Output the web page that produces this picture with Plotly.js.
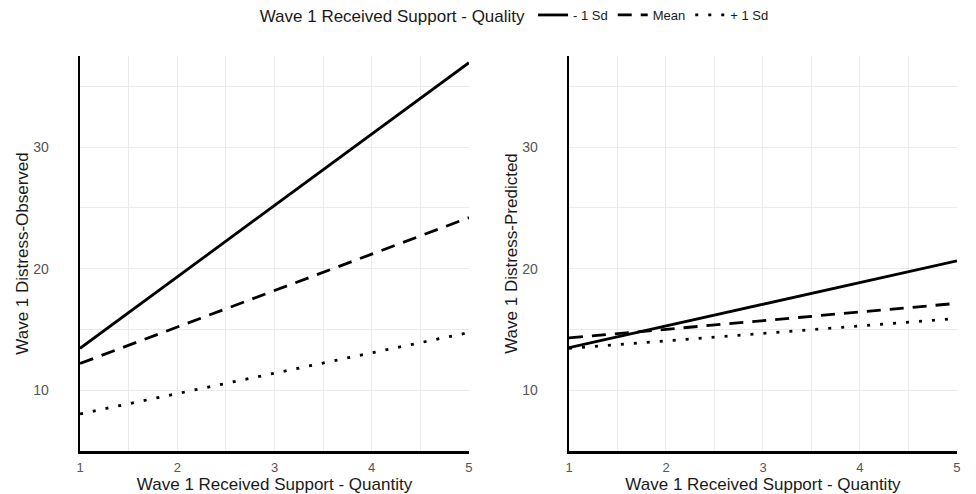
<!DOCTYPE html>
<html>
<head>
<meta charset="utf-8">
<script src="https://cdn.plot.ly/plotly-3.0.1.min.js"></script>
<style>html,body{margin:0;padding:0;background:#fff;}#chart{width:976px;height:494px;}</style>
</head>
<body>
<div id="chart"></div>
<script>
// Data
const quantity = [1, 5];
const groups = ["- 1 Sd", "Mean", "+ 1 Sd"];
const observedMinus1Sd = [13.45, 36.95];
const observedMean = [12.2, 24.2];
const observedPlus1Sd = [8.05, 14.75];
const predictedMinus1Sd = [13.5, 20.65];
const predictedMean = [14.3, 17.15];
const predictedPlus1Sd = [13.45, 15.9];
const yTickVals = [10, 20, 30];
const xTickVals = [1, 2, 3, 4, 5];

const dashes = ["solid", "14px,9px", "3px,10px"];
const observed = [observedMinus1Sd, observedMean, observedPlus1Sd];
const predicted = [predictedMinus1Sd, predictedMean, predictedPlus1Sd];

const traces = [];
observed.forEach((ys, i) => traces.push({
  x: quantity, y: ys, mode: "lines", name: groups[i], legendgroup: groups[i],
  line: {color: "#000", width: 2.8, dash: dashes[i]}, xaxis: "x", yaxis: "y", showlegend: true
}));
predicted.forEach((ys, i) => traces.push({
  x: quantity, y: ys, mode: "lines", name: groups[i], legendgroup: groups[i],
  line: {color: "#000", width: 2.8, dash: dashes[i]}, xaxis: "x2", yaxis: "y2", showlegend: false
}));

const gridc = "#ebebeb";
const font = "Liberation Sans, Arial, sans-serif";
function xa(domain, anchor) {
  return {
    domain: domain, anchor: anchor, range: [1, 5], tickvals: xTickVals,
    showgrid: true, gridcolor: gridc, gridwidth: 1,
    minor: {dtick: 0.5, tick0: 0, showgrid: true, gridcolor: gridc, gridwidth: 1},
    showline: true, linecolor: "#000", linewidth: 2.5, zeroline: false, ticks: "",
    ticklabelstandoff: 3,
    tickfont: {family: font, size: 13, color: "#555"},
    title: {text: "Wave 1 Received Support - Quantity", font: {family: font, size: 17, color: "#1a1a1a"}, standoff: 2}
  };
}
function ya(anchor, title) {
  return {
    domain: [0, 1], anchor: anchor, range: [5.0, 37.5], tickvals: yTickVals,
    showgrid: true, gridcolor: gridc, gridwidth: 1,
    minor: {dtick: 5, tick0: 0, showgrid: true, gridcolor: gridc, gridwidth: 1},
    showline: true, linecolor: "#000", linewidth: 2.5, zeroline: false, ticks: "",
    ticklabelstandoff: 26,
    tickfont: {family: font, size: 14, color: "#555"},
    title: {text: title, font: {family: font, size: 17, color: "#1a1a1a"}, standoff: 0}
  };
}

const layout = {
  width: 976, height: 494,
  margin: {l: 0, r: 0, t: 56, b: 43},
  paper_bgcolor: "#fff", plot_bgcolor: "#fff",
  font: {family: font},
  xaxis: xa([0.082, 0.4805], "y"),
  yaxis: ya("x", "Wave 1 Distress-Observed"),
  xaxis2: xa([0.583, 0.9805], "y2"),
  yaxis2: ya("x2", "Wave 1 Distress-Predicted"),
  showlegend: true,
  legend: {
    orientation: "h", x: 0.264, xanchor: "left", y: 1.1, yanchor: "middle",
    title: {text: "Wave 1 Received Support - Quality", side: "left", font: {family: font, size: 17, color: "#1a1a1a"}},
    font: {family: font, size: 13, color: "#1a1a1a"},
    itemwidth: 30, tracegroupgap: 0, bgcolor: "rgba(0,0,0,0)"
  }
};

Plotly.newPlot("chart", traces, layout, {displayModeBar: false, staticPlot: true});
</script>
</body>
</html>
